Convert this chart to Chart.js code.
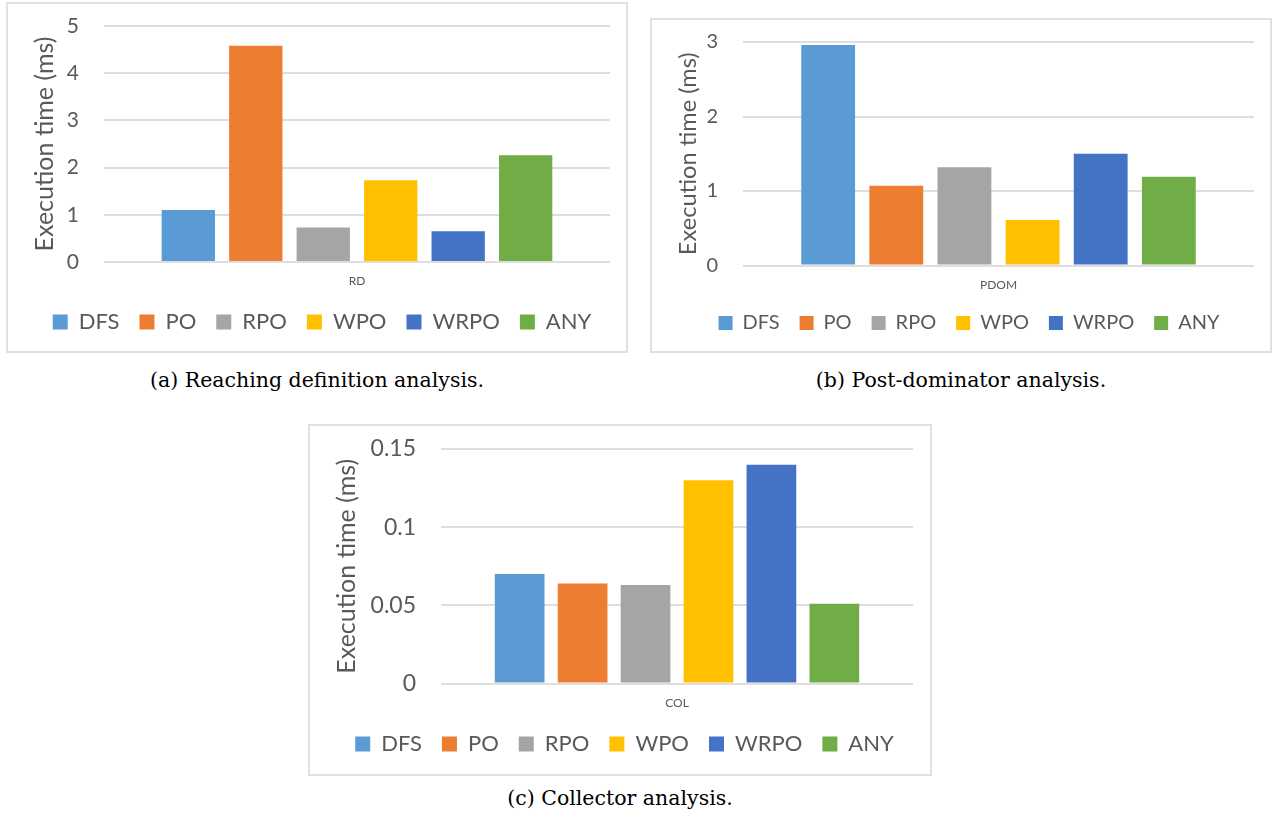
<!DOCTYPE html>
<html>
<head>
<meta charset="utf-8">
<title>Execution time per traversal order</title>
<script src="https://cdn.jsdelivr.net/npm/chart.js"></script>
<style>
  body { margin: 0; background: #fff; width: 1273px; height: 818px; position: relative; overflow: hidden; }
  .panel { position: absolute; box-sizing: border-box; border: 2px solid #e0e0e0; background: #fff; }
  .panel canvas { display: block; }
  .caption { position: absolute; text-align: center; font-family: 'DejaVu Serif', serif; font-size: 20.5px; line-height: 24px; color: #000; }
</style>
</head>
<body>
<div class="panel" style="left:6px;top:2px;width:622px;height:351px"><canvas id="rdChart" width="618" height="347"></canvas></div>
<div class="caption" style="left:6px;top:368px;width:622px">(a) Reaching definition analysis.</div>

<div class="panel" style="left:650px;top:18px;width:622px;height:335px"><canvas id="pdomChart" width="618" height="331"></canvas></div>
<div class="caption" style="left:650px;top:368px;width:622px">(b) Post-dominator analysis.</div>

<div class="panel" style="left:308px;top:424px;width:624px;height:352px"><canvas id="colChart" width="620" height="348"></canvas></div>
<div class="caption" style="left:308px;top:786px;width:624px">(c) Collector analysis.</div>

<script>
// traversal orders (one bar each)
const methods = ['DFS', 'PO', 'RPO', 'WPO', 'WRPO', 'ANY']
const colors = ['#5b9bd5', '#ed7d31', '#a5a5a5', '#ffc000', '#4472c4', '#70ad47']

// execution time in ms
const rdTimes = [1.10, 4.58, 0.73, 1.73, 0.65, 2.26]
const pdomTimes = [2.96, 1.07, 1.32, 0.61, 1.50, 1.19]
const colTimes = [0.070, 0.064, 0.063, 0.130, 0.140, 0.051]

// y tick labels
const rdTicks = [0, 1, 2, 3, 4, 5]
const pdomTicks = [0, 1, 2, 3]
const colTicks = [0, 0.05, 0.1, 0.15]

const textColor = '#595959'
Chart.defaults.font.family = 'Lato, "Open Sans", sans-serif'
Chart.defaults.color = textColor

// excel puts the legend a bit right of centre
const legendShift = {
  id: 'legendShift',
  afterLayout(chart, args, opts) {
    const lg = chart.legend
    if (!lg) return
    lg.left += opts.dx
    lg.right += opts.dx
  }
}

function buildChart(canvasId, category, values, ticks, box) {
  const step = ticks[1] - ticks[0]
  const ctx = document.getElementById(canvasId).getContext('2d')
  return new Chart(ctx, {
    type: 'bar',
    data: {
      labels: [category],
      datasets: methods.map((m, i) => ({
        label: m,
        data: [values[i]],
        backgroundColor: colors[i],
        categoryPercentage: 0.8,
        barPercentage: 0.79
      }))
    },
    plugins: [legendShift],
    options: {
      responsive: false,
      animation: false,
      layout: { padding: { top: box.top, right: box.right, bottom: box.bottom, left: 0 } },
      plugins: {
        legendShift: { dx: box.dx },
        legend: {
          position: 'bottom',
          labels: {
            boxWidth: box.boxSize,
            boxHeight: box.boxSize,
            padding: 20,
            color: textColor,
            font: { size: box.legend }
          }
        },
        tooltip: { enabled: false }
      },
      scales: {
        x: {
          grid: { display: false, drawTicks: false },
          border: { display: false },
          ticks: { color: textColor, font: { size: 12 }, padding: 12 },
          afterFit: s => {
            s.height = box.xh
            s.paddingLeft = 0
            s.paddingRight = 0
          }
        },
        y: {
          min: ticks[0],
          max: ticks[ticks.length - 1],
          grid: { color: '#dedede', lineWidth: 2, drawTicks: false },
          border: { display: false },
          ticks: {
            stepSize: step,
            padding: 25,
            color: textColor,
            font: { size: box.tick },
            callback: v => String(+v.toFixed(2))
          },
          title: {
            display: true,
            text: 'Execution time (ms)',
            color: textColor,
            font: { size: box.title },
            padding: { top: 22, bottom: 0 }
          },
          afterFit: s => {
            s.width = box.yw
            // keep tick padding from eating the top margin
            s.paddingTop = 0
            s.paddingBottom = 0
          }
        }
      }
    }
  })
}

// (a) RD
buildChart('rdChart', 'RD', rdTimes, rdTicks,
  { top: 22, right: 16, bottom: 8, xh: 29, yw: 96, tick: 21, legend: 22, title: 25, boxSize: 15, dx: 13 })

// (b) PDOM
buildChart('pdomChart', 'PDOM', pdomTimes, pdomTicks,
  { top: 22, right: 16, bottom: 8, xh: 27.5, yw: 91, tick: 20, legend: 20, title: 23.6, boxSize: 14, dx: 16 })

// (c) COL
buildChart('colChart', 'COL', colTimes, colTicks,
  { top: 23, right: 17, bottom: 9, xh: 29.5, yw: 131, tick: 23, legend: 22, title: 25, boxSize: 15, dx: 13 })
</script>
</body>
</html>
